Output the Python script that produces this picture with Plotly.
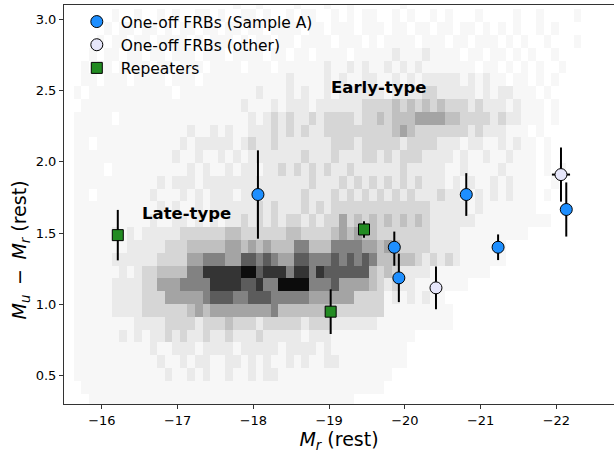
import plotly.graph_objects as go

# background galaxy density (rest-frame M_r vs u-r)
# one string per colour bin, top row first; one digit per 0.1 mag bin (0 = empty, 9 = densest)
hist_rows = [
    "0000000000 0000000000 0010010000 1000100100 0000100000 0000000000 0000000000 000",
    "0000001001 0010100110 1001101001 0110010101 1001010010 1000100001 0010000100 000",
    "0000010110 1101011011 0110110111 1011011101 1101101101 1011010101 0010100000 000",
    "0000101101 1011110101 1101011011 0111101110 1011110111 0110111010 1001000100 000",
    "0001011011 0110111011 1011110110 1101111011 1112111211 1101101101 0100100000 000",
    "0010110111 1011011101 1110111011 1111211212 1121212111 1111011010 1010010000 000",
    "0011011101 1110111011 1111111112 1111212112 2112121222 2212121101 1010100000 000",
    "0101111111 1111011111 1111121112 1211212222 2212222332 2222121221 1101000000 000",
    "0011111111 1111111111 1112111212 2212222223 3334343434 3332322212 1110100000 000",
    "0111110111 1111111111 1111212323 2232333323 3434445555 4433332322 1110100000 000",
    "0111111111 1111112112 1211222323 2322333333 3334543333 3332322211 1010000000 000",
    "0110111111 1111121222 2212322322 2222233323 3333233332 2212211212 1101000000 000",
    "0111111111 1111211211 2121222222 2322232223 3232333222 2121121121 1101000000 000",
    "0111101111 1111112121 1212212232 3232322322 2222322222 1121111211 1101010000 000",
    "0111111111 1121222122 2222222222 2232223232 3232323222 1212112121 1100100000 000",
    "0110111111 1211121212 2212222222 2322232323 2323232223 2211212121 1101000000 000",
    "0111111111 1121211212 2222232322 2323233333 3333333322 2221211111 1100000000 000",
    "0111111111 1211221212 1223232323 3232335343 4343434322 2222111111 1111000000 000",
    "0111112121 2222233333 3443333334 4333345454 4333333322 2211111111 1000000000 000",
    "0111111122 2223334444 4554545444 6644466665 5454333322 2211111100 0000000000 000",
    "0111112222 2233335566 6557767655 7766676767 6444443232 3211111100 0000000000 000",
    "0111111212 3344446688 8889978886 8868777777 4343222211 1111110000 0000000000 000",
    "0111112222 3355566668 8887786699 9966675555 4323221111 1110000000 0000000000 000",
    "0111112222 3335555567 7766777666 6655555533 3312121211 0000000000 0000000000 000",
    "0111112222 3333334545 5555555644 4444433333 3311111111 1000000000 0000000000 000",
    "0111111112 2223333233 3433323333 3233322222 2111111111 1000000000 0000000000 000",
    "0111111212 1223232232 2322232222 2122211111 1111110000 0000000000 0000000000 000",
    "0111111111 1211222122 2212222212 2221211111 1111100000 0000000000 0000000000 000",
    "0111111111 1121121221 1221212112 1211221111 1111100000 0000000000 0000000000 000",
    "0111111111 1112112121 1211212211 1111111111 1110000000 0000000000 0000000000 000",
    "0011111111 1111111111 1111111111 1111111111 1100000000 0000000000 0000000000 000",
    "0001111111 1111111111 1111111111 1111111100 0000000000 0000000000 0000000000 000",
]
hist_x_first = -15.58   # centre of first magnitude bin
hist_x_step = -0.1
hist_y_first = 0.325    # centre of lowest colour bin
hist_y_step = 0.09

# FRB hosts
sample_a_mr = [-18.06, -19.86, -19.92, -20.81, -21.23, -22.13]
sample_a_ur = [1.77, 1.40, 1.185, 1.77, 1.40, 1.665]
sample_a_err_hi = [0.31, 0.11, 0.17, 0.15, 0.09, 0.19]
sample_a_err_lo = [0.31, 0.13, 0.17, 0.15, 0.09, 0.19]

other_mr = [-20.41, -22.06]
other_ur = [1.115, 1.91]
other_err = [0.15, 0.19]
other_mr_err = [0.0, 0.12]

rep_mr = [-16.21, -19.46, -19.02]
rep_ur = [1.485, 1.525, 0.948]
rep_err = [0.177, 0.058, 0.157]

FONT = "DejaVu Sans"
greys = [255, 247, 234, 214, 192, 164, 130, 92, 52, 12]
colorscale = [[i / 9, f"rgb({g},{g},{g})"] for i, g in enumerate(greys)]

n_cols = 73
z = []
for row in reversed(hist_rows):
    row = row.replace(" ", "")[:n_cols].ljust(n_cols, "0")
    z.append([int(ch) for ch in row])

fig = go.Figure()
fig.add_trace(go.Heatmap(
    z=z, x0=hist_x_first, dx=hist_x_step, y0=hist_y_first, dy=hist_y_step,
    zmin=0, zmax=9, colorscale=colorscale, showscale=False,
    hoverinfo="skip", showlegend=False,
))


def err_bar(hi, lo=None):
    return dict(type="data", symmetric=lo is None, array=hi, arrayminus=lo,
                color="black", thickness=2, width=0)


fig.add_trace(go.Scatter(
    x=sample_a_mr, y=sample_a_ur, mode="markers", name="One-off FRBs (Sample A)",
    marker=dict(symbol="circle", size=12, color="#1e8fff", line=dict(color="black", width=1)),
    error_y=err_bar(sample_a_err_hi, sample_a_err_lo),
))
fig.add_trace(go.Scatter(
    x=other_mr, y=other_ur, mode="markers", name="One-off FRBs (other)",
    marker=dict(symbol="circle", size=12, color="#e6e6fa", line=dict(color="black", width=1)),
    error_y=err_bar(other_err), error_x=err_bar(other_mr_err),
))
fig.add_trace(go.Scatter(
    x=rep_mr, y=rep_ur, mode="markers", name="Repeaters",
    marker=dict(symbol="square", size=11, color="#228b22", line=dict(color="black", width=1)),
    error_y=err_bar(rep_err),
))

fig.add_annotation(x=-19.65, y=2.52, text="<b>Early-type</b>", showarrow=False,
                   font=dict(family=FONT, size=16.5, color="black"))
fig.add_annotation(x=-17.12, y=1.635, text="<b>Late-type</b>", showarrow=False,
                   font=dict(family=FONT, size=16.5, color="black"))

# y label sits a bit below the axis middle in the original, so place it by hand
fig.add_annotation(
    xref="paper", yref="paper", x=-0.08, y=0.385, xanchor="center", yanchor="middle",
    textangle=-90, showarrow=False,
    text="<i>M</i><sub><i>u</i></sub>\u2002\u2212\u2002<i>M</i><sub><i>r</i></sub> (rest)",
    font=dict(family=FONT, size=19, color="black"),
)

axis_common = dict(
    showgrid=False, zeroline=False, showline=True, linecolor="#333", linewidth=1,
    ticks="outside", ticklen=4, tickcolor="#333", automargin=False,
    tickfont=dict(family=FONT, size=13, color="black"),
)
fig.update_layout(
    width=614, height=453,
    margin=dict(l=64, r=0, t=5, b=49),
    paper_bgcolor="white", plot_bgcolor="white",
    font=dict(family=FONT, color="black"),
    xaxis=dict(
        range=[-15.5, -22.76], tickvals=[-16, -17, -18, -19, -20, -21, -22],
        mirror=True, **axis_common,
        title=dict(text="<i>M</i><sub><i>r</i></sub> (rest)", font=dict(size=19), standoff=2),
    ),
    yaxis=dict(
        range=[0.3, 3.1], tickvals=[0.5, 1.0, 1.5, 2.0, 2.5, 3.0], tickformat=".1f",
        **axis_common,
    ),
    legend=dict(x=0.016, y=1.0, xanchor="left", yanchor="top", bgcolor="rgba(0,0,0,0)",
                font=dict(family=FONT, size=15.5), tracegroupgap=0, itemwidth=38),
)

# drop the browser's default page margin so the figure sits at the window's corner
fig.write_html("out.html", config={"displayModeBar": False},
               post_script="document.body.style.margin = '0px';")
